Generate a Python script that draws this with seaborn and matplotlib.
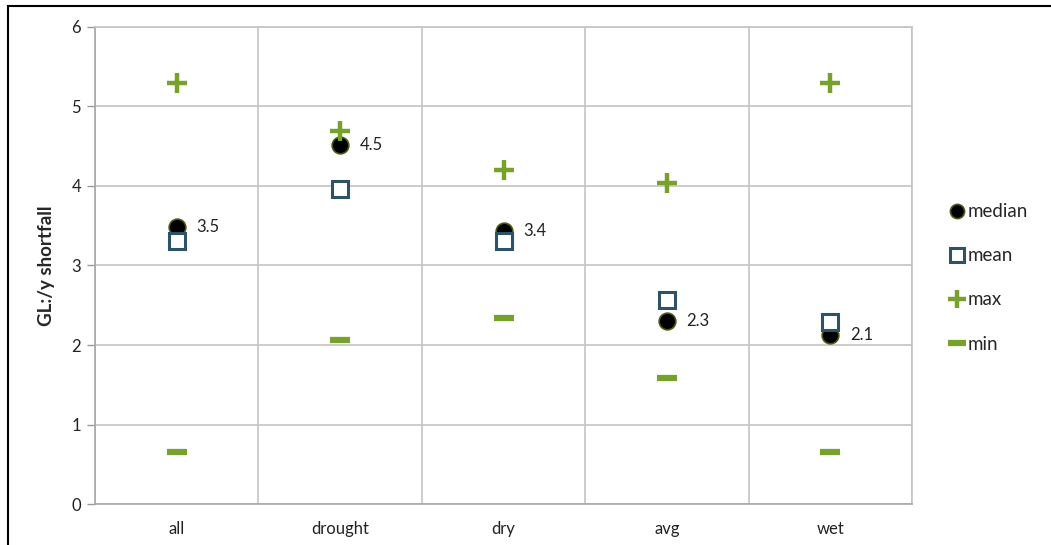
import numpy as np
import pandas as pd
import matplotlib
matplotlib.use("Agg")
import matplotlib.pyplot as plt
import matplotlib.patches as patches
import seaborn as sns

categories = ["all", "drought", "dry", "avg", "wet"]
median_vals = [3.48, 4.52, 3.44, 2.30, 2.13]
mean_vals = [3.31, 3.96, 3.31, 2.57, 2.29]
max_vals = [5.30, 4.69, 4.20, 4.04, 5.30]
min_vals = [0.65, 2.06, 2.34, 1.58, 0.65]
median_labels = ["3.5", "4.5", "3.4", "2.3", "2.1"]

GREEN = "#76a22b"
BLUE = "#2e5368"
GRID = "#c4c4c4"

sns.set_style("white")
plt.rcParams["font.family"] = ["Lato", "DejaVu Sans"]

df = pd.DataFrame({
    "pos": np.arange(len(categories)),
    "median": median_vals,
    "mean": mean_vals,
    "max": max_vals,
    "min": min_vals,
})

fig = plt.figure(figsize=(10.51, 5.45), dpi=100)
ax = fig.add_axes([0.0904, 0.0752, 0.7774, 0.8753])

# series
sns.lineplot(data=df, x="pos", y="median", ax=ax, linestyle="", marker="o",
             markersize=12, color="black", markeredgecolor="#4a5a10",
             markeredgewidth=1.2, label="median", sort=False)
sns.lineplot(data=df, x="pos", y="mean", ax=ax, linestyle="", marker="s",
             markersize=12, color=BLUE, markerfacecolor="white",
             markeredgecolor=BLUE, markeredgewidth=2.2, label="mean", sort=False)
sns.lineplot(data=df, x="pos", y="max", ax=ax, linestyle="", marker="+",
             markersize=15, color=GREEN, markeredgecolor=GREEN,
             markeredgewidth=3.2, label="max", sort=False)
sns.lineplot(data=df, x="pos", y="min", ax=ax, linestyle="", marker="_",
             markersize=15, color=GREEN, markeredgecolor=GREEN,
             markeredgewidth=4.5, label="min", sort=False)

for i, lab in enumerate(median_labels):
    ax.text(df["pos"][i] + 0.12, median_vals[i], lab, fontsize=12,
            color="#222222", va="center", ha="left")

ax.set_xlim(-0.5, len(categories) - 0.5)
ax.set_ylim(0, 6)
ax.set_yticks(range(0, 7))
ax.set_xticks(df["pos"])
ax.set_xticklabels(categories)
ax.set_xticks(np.arange(-0.5, len(categories)), minor=True)
ax.grid(False)
ax.yaxis.grid(True, color=GRID, linewidth=1.2)
ax.xaxis.grid(True, which="minor", color=GRID, linewidth=1.2)
ax.tick_params(axis="x", which="major", length=0, pad=12, labelsize=12, labelcolor="#222222")
ax.tick_params(axis="x", which="minor", length=6, color="#999999", width=1)
ax.tick_params(axis="y", length=6, color="#999999", width=1, pad=4,
               labelsize=12, labelcolor="#222222", left=True)
ax.set_xlabel("")
ax.set_ylabel("GL:/y shortfall", fontsize=13.5, fontweight="bold", labelpad=12)
for side, sp in ax.spines.items():
    sp.set_color(GRID if side in ("top", "right") else "#a8a8a8")
    sp.set_linewidth(1.2)

leg = ax.legend(loc="center left", bbox_to_anchor=(1.035, 0.474), frameon=False,
                fontsize=13.5, handlelength=0.9, handletextpad=0.15,
                labelspacing=1.45, borderaxespad=0, markerscale=0.85)

# outer chart frame (cut off at right and bottom)
fig.patches.append(patches.Rectangle((8 / 1051, -0.1), 1.2, 1 - 6 / 545 + 0.1,
                                     transform=fig.transFigure, fill=False,
                                     edgecolor="black", linewidth=1.5))

fig.savefig("out.png", dpi=100)
